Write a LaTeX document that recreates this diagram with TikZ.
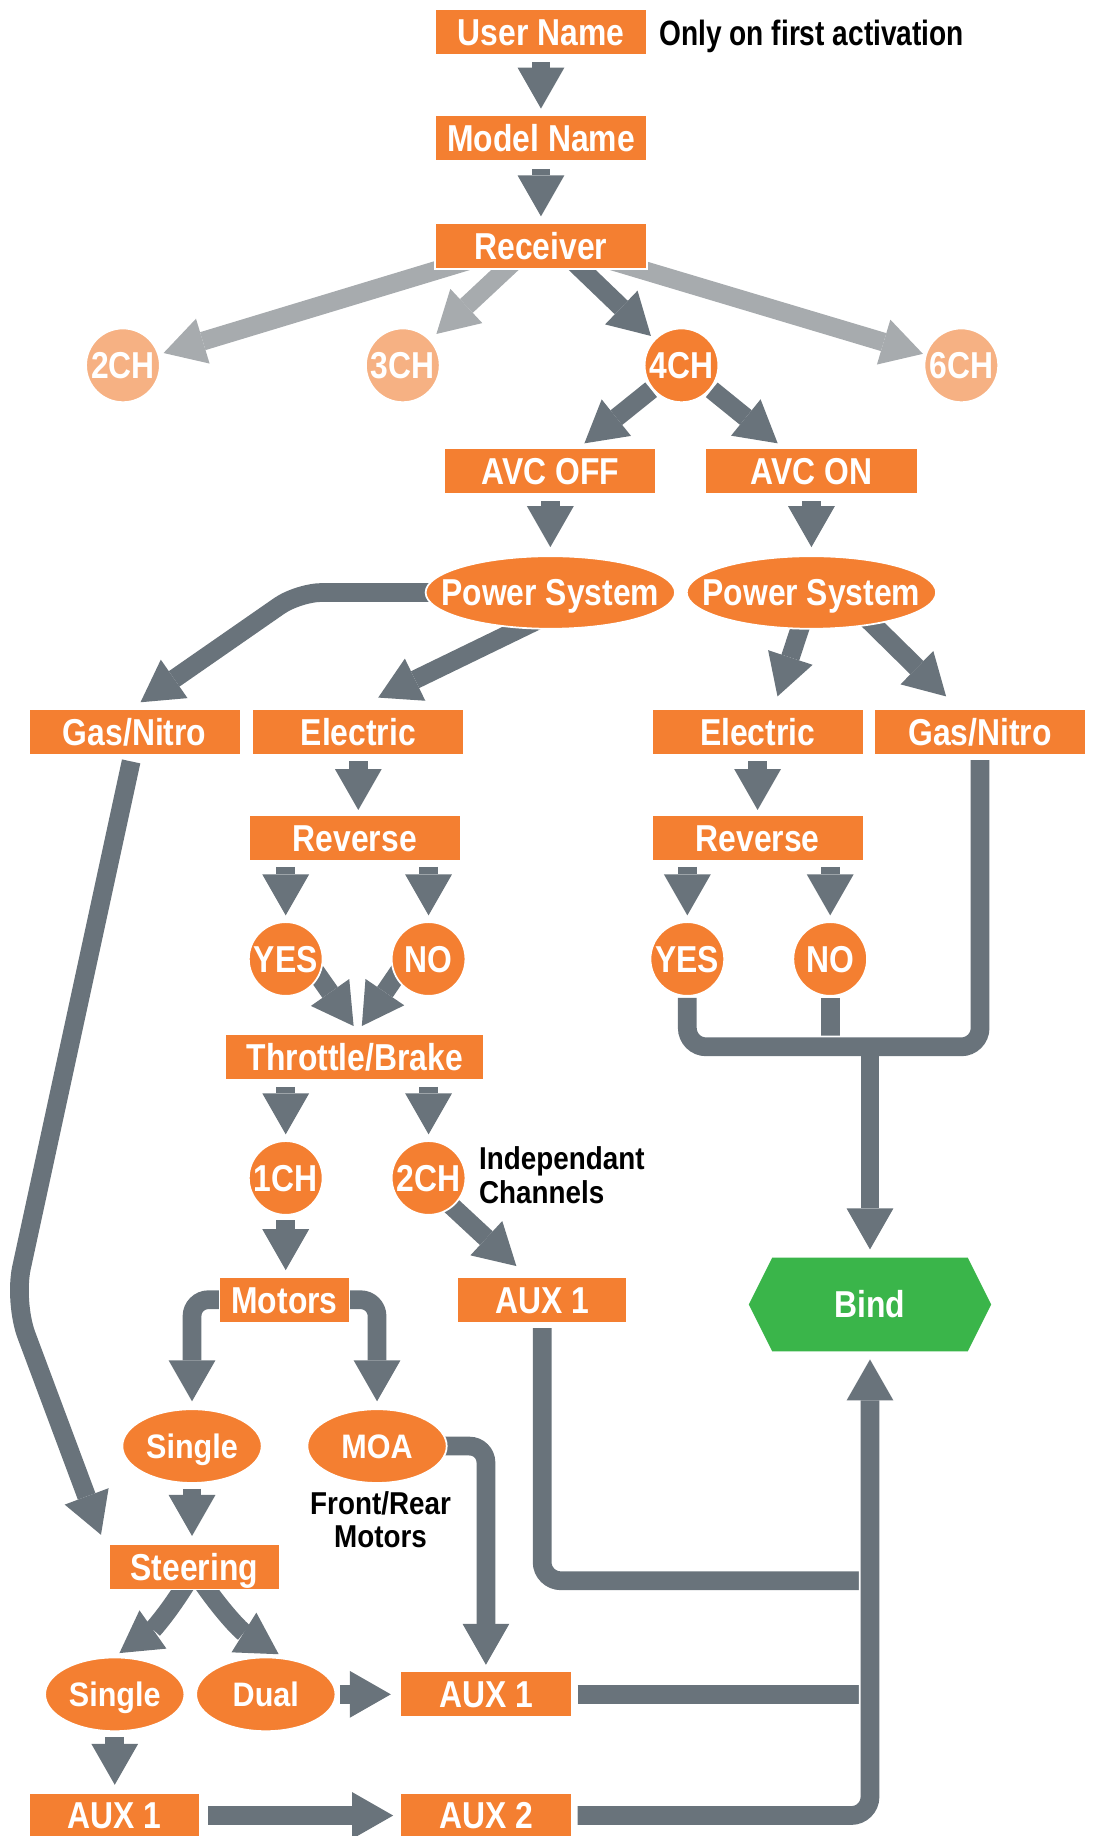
\documentclass[tikz,border=0pt]{standalone}
\usepackage{fontspec}
\newfontfamily\cfbox{Liberation Sans}[FakeStretch=0.85]
\newfontfamily\cfoval{Liberation Sans}[FakeStretch=0.9]
\newfontfamily\cfonly{Liberation Sans}[FakeStretch=0.8]
\newfontfamily\cfnote{Liberation Sans}[FakeStretch=0.88]
\usetikzlibrary{arrows.meta,shapes.geometric,backgrounds,calc}
\definecolor{org}{HTML}{F47F31}
\definecolor{lorg}{HTML}{F6B183}
\definecolor{dg}{HTML}{69737B}
\definecolor{lg}{HTML}{A7ABAE}
\definecolor{grn}{HTML}{3AB54A}
\tikzset{
  lbl/.style={text=white, font=\cfbox\bfseries\fontsize{32}{36}\selectfont, text height=22.9pt, text depth=0pt, inner sep=0pt},
  box/.style={lbl, rectangle, fill=org, draw=white, line width=1.5pt, minimum width=181pt, minimum height=39pt},
  circ/.style={lbl, ellipse, fill=org, draw=white, line width=1.5pt, minimum width=63pt, minimum height=63pt,
    execute at begin node={\hbox to 0pt\bgroup\hss}, execute at end node={\hss\egroup}},
  lcirc/.style={circ, fill=lorg},
  oval/.style={circ, minimum width=119pt, font=\cfoval\bfseries\fontsize{29}{33}\selectfont, text height=20.8pt},
  psys/.style={circ, minimum width=213pt, minimum height=62pt},
  note/.style={text=black, font=\cfnote\bfseries\fontsize{27}{28.5}\selectfont, inner sep=0pt},
  arr/.style={draw=dg, line width=16pt, -{Triangle[width=40pt,length=35pt,line width=0pt]}},
  larr/.style={arr, draw=lg},
  ln/.style={draw=dg, line width=16pt},
}
\begin{document}
\begin{tikzpicture}[x=1pt,y=-1pt]
\useasboundingbox (0,0) rectangle (933,1568);
% nodes
\node[box] (user) at (462,27) {User Name};
\node[note, font=\cfonly\bfseries\fontsize{30}{34}\selectfont, anchor=base west] (only) at (563,39) {Only on first activation};
\node[box] (model) at (462,118) {Model Name};
\node[box] (recv) at (462,210) {Receiver};
\node[lcirc] (c2) at (105,312) {2CH};
\node[lcirc] (c3) at (344,312) {3CH};
\node[circ] (c4) at (582,312) {4CH};
\node[lcirc] (c6) at (821,312) {6CH};
\node[box] (avcoff) at (470,402) {AVC OFF};
\node[box] (avcon) at (693,402) {AVC ON};
\node[psys] (psL) at (470,506) {Power System};
\node[psys] (psR) at (693,506) {Power System};
\node[box] (gasL) at (115,625) {Gas/Nitro};
\node[box] (elecL) at (306,625) {Electric};
\node[box] (elecR) at (647,625) {Electric};
\node[box] (gasR) at (837,625) {Gas/Nitro};
\node[box] (revL) at (303,716) {Reverse};
\node[box] (revR) at (647,716) {Reverse};
\node[circ] (yesL) at (244,819) {YES};
\node[circ] (noL) at (366,819) {NO};
\node[circ] (yesR) at (587,819) {YES};
\node[circ] (noR) at (709,819) {NO};
\node[box, minimum width=221pt] (tb) at (303,903) {Throttle/Brake};
\node[circ] (ch1) at (244,1006) {1CH};
\node[circ] (ch2) at (366,1006) {2CH};
\node[note, anchor=west, align=left] (indep) at (409,1003.5) {Independant\\Channels};
\node[box, minimum width=111pt] (motors) at (243,1110) {Motors};
\node[box, minimum width=145pt] (auxM) at (463,1110) {AUX 1};
\node[lbl, minimum width=207pt, minimum height=80pt, outer sep=0pt] (bind) at (743,1114) {Bind};
\node[oval] (singleT) at (164,1235) {Single};
\node[oval] (moa) at (322,1235) {MOA};
\node[note, align=center] (fr) at (325,1298) {Front/Rear\\Motors};
\node[box, minimum width=146pt] (steer) at (166,1338) {Steering};
\node[oval] (singleB) at (98,1447) {Single};
\node[oval] (dual) at (227,1447) {Dual};
\node[box, minimum width=147pt] (auxL) at (415,1447) {AUX 1};
\node[box, minimum width=146pt] (auxBL) at (98,1550.5) {AUX 1};
\node[box, minimum width=147pt] (aux2) at (415,1550.5) {AUX 2};
\coordinate (j1) at (743,1350);
\coordinate (j2) at (743,894);
\coordinate (bend1) at (255,506);
\coordinate (bend2) at (12,1112);
% connectors
\begin{scope}[on background layer]
\fill[grn] (bind.west) -- ([xshift=20pt]bind.north west) -- ([xshift=-20pt]bind.north east) -- (bind.east)
  -- ([xshift=-20pt]bind.south east) -- ([xshift=20pt]bind.south west) -- cycle;
\draw[arr, shorten <=6pt, shorten >=5pt] (user) -- (model);
\draw[arr, shorten <=6pt, shorten >=5pt] (model) -- (recv);
\draw[larr, shorten >=4pt] ([shift={(-50,9)}]recv.center) -- (c2);
\draw[larr, shorten >=7pt] ([shift={(-12,3)}]recv.center) -- (c3);
\draw[arr, shorten >=4pt] ([shift={(18,4)}]recv.center) -- (c4);
\draw[larr, shorten >=2pt] ([shift={(58,12)}]recv.center) -- (c6);
\draw[arr, shorten <=1pt, shorten >=5pt] (c4) -- (avcoff);
\draw[arr, shorten <=1pt, shorten >=5pt] (c4) -- (avcon);
\draw[arr, shorten <=6pt, shorten >=7pt] (avcoff) -- (psL);
\draw[arr, shorten <=6pt, shorten >=7pt] (avcon) -- (psR);
\draw[arr, rounded corners=20pt] (psL.center) -- (bend1) -- ([shift={(5,-5)}]gasL.north);
\draw[arr] ([shift={(7,15)}]psL.center) -- ([shift={(17,-9)}]elecL.north);
\draw[arr] ([shift={(-5,16)}]psR.center) -- ([shift={(17,-10)}]elecR.north);
\draw[arr] ([shift={(37,12)}]psR.center) -- ([shift={(-29,-10)}]gasR.north);
\draw[arr, shorten <=5pt, shorten >=4pt] (elecL) -- (elecL |- revL.north);
\draw[arr, shorten <=5pt, shorten >=4pt] (elecR) -- (elecR |- revR.north);
\draw[arr, shorten <=4pt, shorten >=5pt] (yesL |- revL.south) -- (yesL);
\draw[arr, shorten <=4pt, shorten >=5pt] (noL |- revL.south) -- (noL);
\draw[arr, shorten <=4pt, shorten >=5pt] (yesR |- revR.south) -- (yesR);
\draw[arr, shorten <=4pt, shorten >=5pt] (noR |- revR.south) -- (noR);
\draw[arr] ([shift={(24.5,9.5)}]yesL.center) -- ([shift={(-1,-6.5)}]tb.north);
\draw[arr] ([shift={(-24.5,9.5)}]noL.center) -- ([shift={(6,-6.5)}]tb.north);
\draw[arr, shorten <=5pt, shorten >=5pt] (ch1 |- tb.south) -- (ch1);
\draw[arr, shorten <=5pt, shorten >=5pt] (ch2 |- tb.south) -- (ch2);
\draw[arr] ([shift={(9,14)}]ch2.center) -- ([shift={(-22,-8.5)}]auxM.north);
\draw[arr, shorten <=4pt, shorten >=5pt] (ch1) -- (ch1 |- motors.north);
\draw[arr, rounded corners=14pt, shorten >=6pt] (motors.center) -- (singleT |- motors.center) -- (singleT);
\draw[arr, rounded corners=14pt, shorten >=6pt] (motors.center) -- (moa |- motors.center) -- (moa);
\draw[arr, shorten <=4pt, shorten >=6pt] (singleT) -- (singleT |- steer.north);
\draw[arr, rounded corners=14pt, shorten >=5pt] (moa.center) -- (auxL |- moa.center) -- (auxL);
\draw[arr, rounded corners=30pt] ([shift={(-3,5)}]gasL.south) -- (bend2) -- ([shift={(-6,-7)}]steer.north west);
\draw[arr] ([shift={(-3,8)}]steer.center) to[bend left=12] ([shift={(4,-3)}]singleB.north);
\draw[arr] ([shift={(3,8)}]steer.center) to[bend right=12] ([shift={(11,-2)}]dual.north);
\draw[arr, shorten <=4pt, shorten >=6pt] (singleB) -- (singleB |- auxBL.north);
\draw[arr, shorten <=3pt, shorten >=7pt] (dual) -- (auxL);
\draw[arr, shorten <=6pt, shorten >=5pt] (auxBL) -- (aux2);
\draw[ln, shorten <=4pt] (auxL) -- (bind |- auxL);
\draw[ln, rounded corners=16pt, shorten <=4pt] (auxM) -- (auxM |- j1) -- (j1);
\draw[arr, rounded corners=16pt, shorten <=4pt, shorten >=7pt, preaction={draw=white, line width=19pt}] (aux2) -- (bind |- aux2) -- (bind);
\draw[ln, shorten <=1pt] (noR) -- (noR |- j2);
\draw[ln, rounded corners=16pt, shorten <=1pt, shorten >=4pt, preaction={draw=white, line width=19pt}] (yesR) -- (yesR |- j2) -- (gasR |- j2) -- (gasR);
\draw[arr, shorten >=7pt] (j2) -- (bind);
\end{scope}
\end{tikzpicture}
\end{document}
